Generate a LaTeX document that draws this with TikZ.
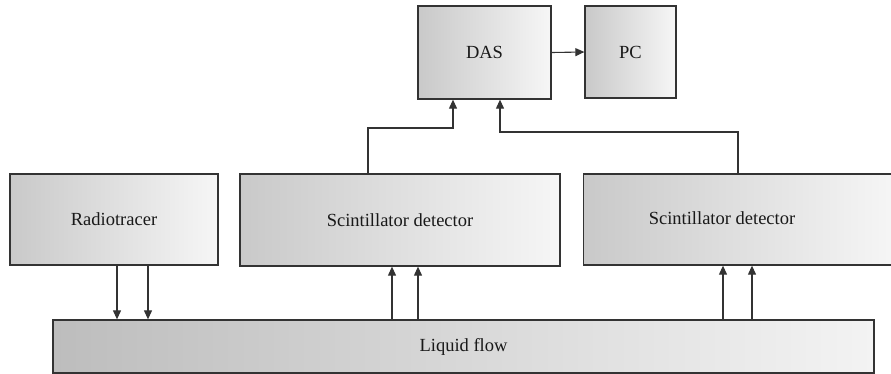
\documentclass[tikz,border=0pt]{standalone}
\usepackage{fontspec}
\newfontfamily\tnr{Liberation Serif}
\usetikzlibrary{arrows.meta}
\definecolor{edge}{HTML}{333333}
\definecolor{lightL}{HTML}{C9C9C9}
\definecolor{lightR}{HTML}{F6F6F6}
\definecolor{flowL}{HTML}{BDBDBD}
\definecolor{flowR}{HTML}{F3F3F3}
\tikzset{
  lbl/.style={font=\tnr\fontsize{18.5}{21}\selectfont, text=black!90},
  blk/.style={draw=edge, line width=1.3pt, left color=lightL, right color=lightR,
    inner sep=0pt, lbl},
  flowblk/.style={blk, left color=flowL, right color=flowR},
  conn/.style={draw=edge, line width=1.1pt, -{Triangle[length=9pt,width=8pt]}}
}
\begin{document}
\begin{tikzpicture}[x=1pt,y=-1pt]
\useasboundingbox (0,0) rectangle (891,374);
\clip (0,0) rectangle (891,374);
% boxes
\node[blk, minimum width=133pt, minimum height=93pt] (das) at (484.5,52.5) {DAS};
\node[blk, minimum width=91pt, minimum height=92pt] (pc) at (630.5,52) {PC};
\node[blk, minimum width=208pt, minimum height=91pt] (rt) at (114,219.5) {Radiotracer};
\node[blk, minimum width=320pt, minimum height=92pt] (sd1) at (400,220) {Scintillator detector};
\node[blk, minimum width=312pt, minimum height=91pt, anchor=west] (sd2) at (583,219.5) {};
\node[lbl] (sd2t) at (722,218) {Scintillator detector};
\node[flowblk, minimum width=821pt, minimum height=53pt] (flow) at (463.5,346.5) {Liquid flow};
% connectors
\draw[conn] (das.east) -- (pc.west);
\draw[conn] (rt.south -| 117,0) -- (flow.north -| 117,0);
\draw[conn] (rt.south -| 148,0) -- (flow.north -| 148,0);
\draw[conn] (flow.north -| 392,0) -- (sd1.south -| 392,0);
\draw[conn] (flow.north -| 418,0) -- (sd1.south -| 418,0);
\draw[conn] (flow.north -| 723,0) -- (sd2.south -| 723,0);
\draw[conn] (flow.north -| 752,0) -- (sd2.south -| 752,0);
\coordinate (j1) at (368,128);
\coordinate (j2) at (738,132);
\draw[conn] (sd1.north -| j1) -- (j1) -| (das.south -| 453,0);
\draw[conn] (sd2.north -| j2) -- (j2) -| (das.south -| 500,0);
\end{tikzpicture}
\end{document}
